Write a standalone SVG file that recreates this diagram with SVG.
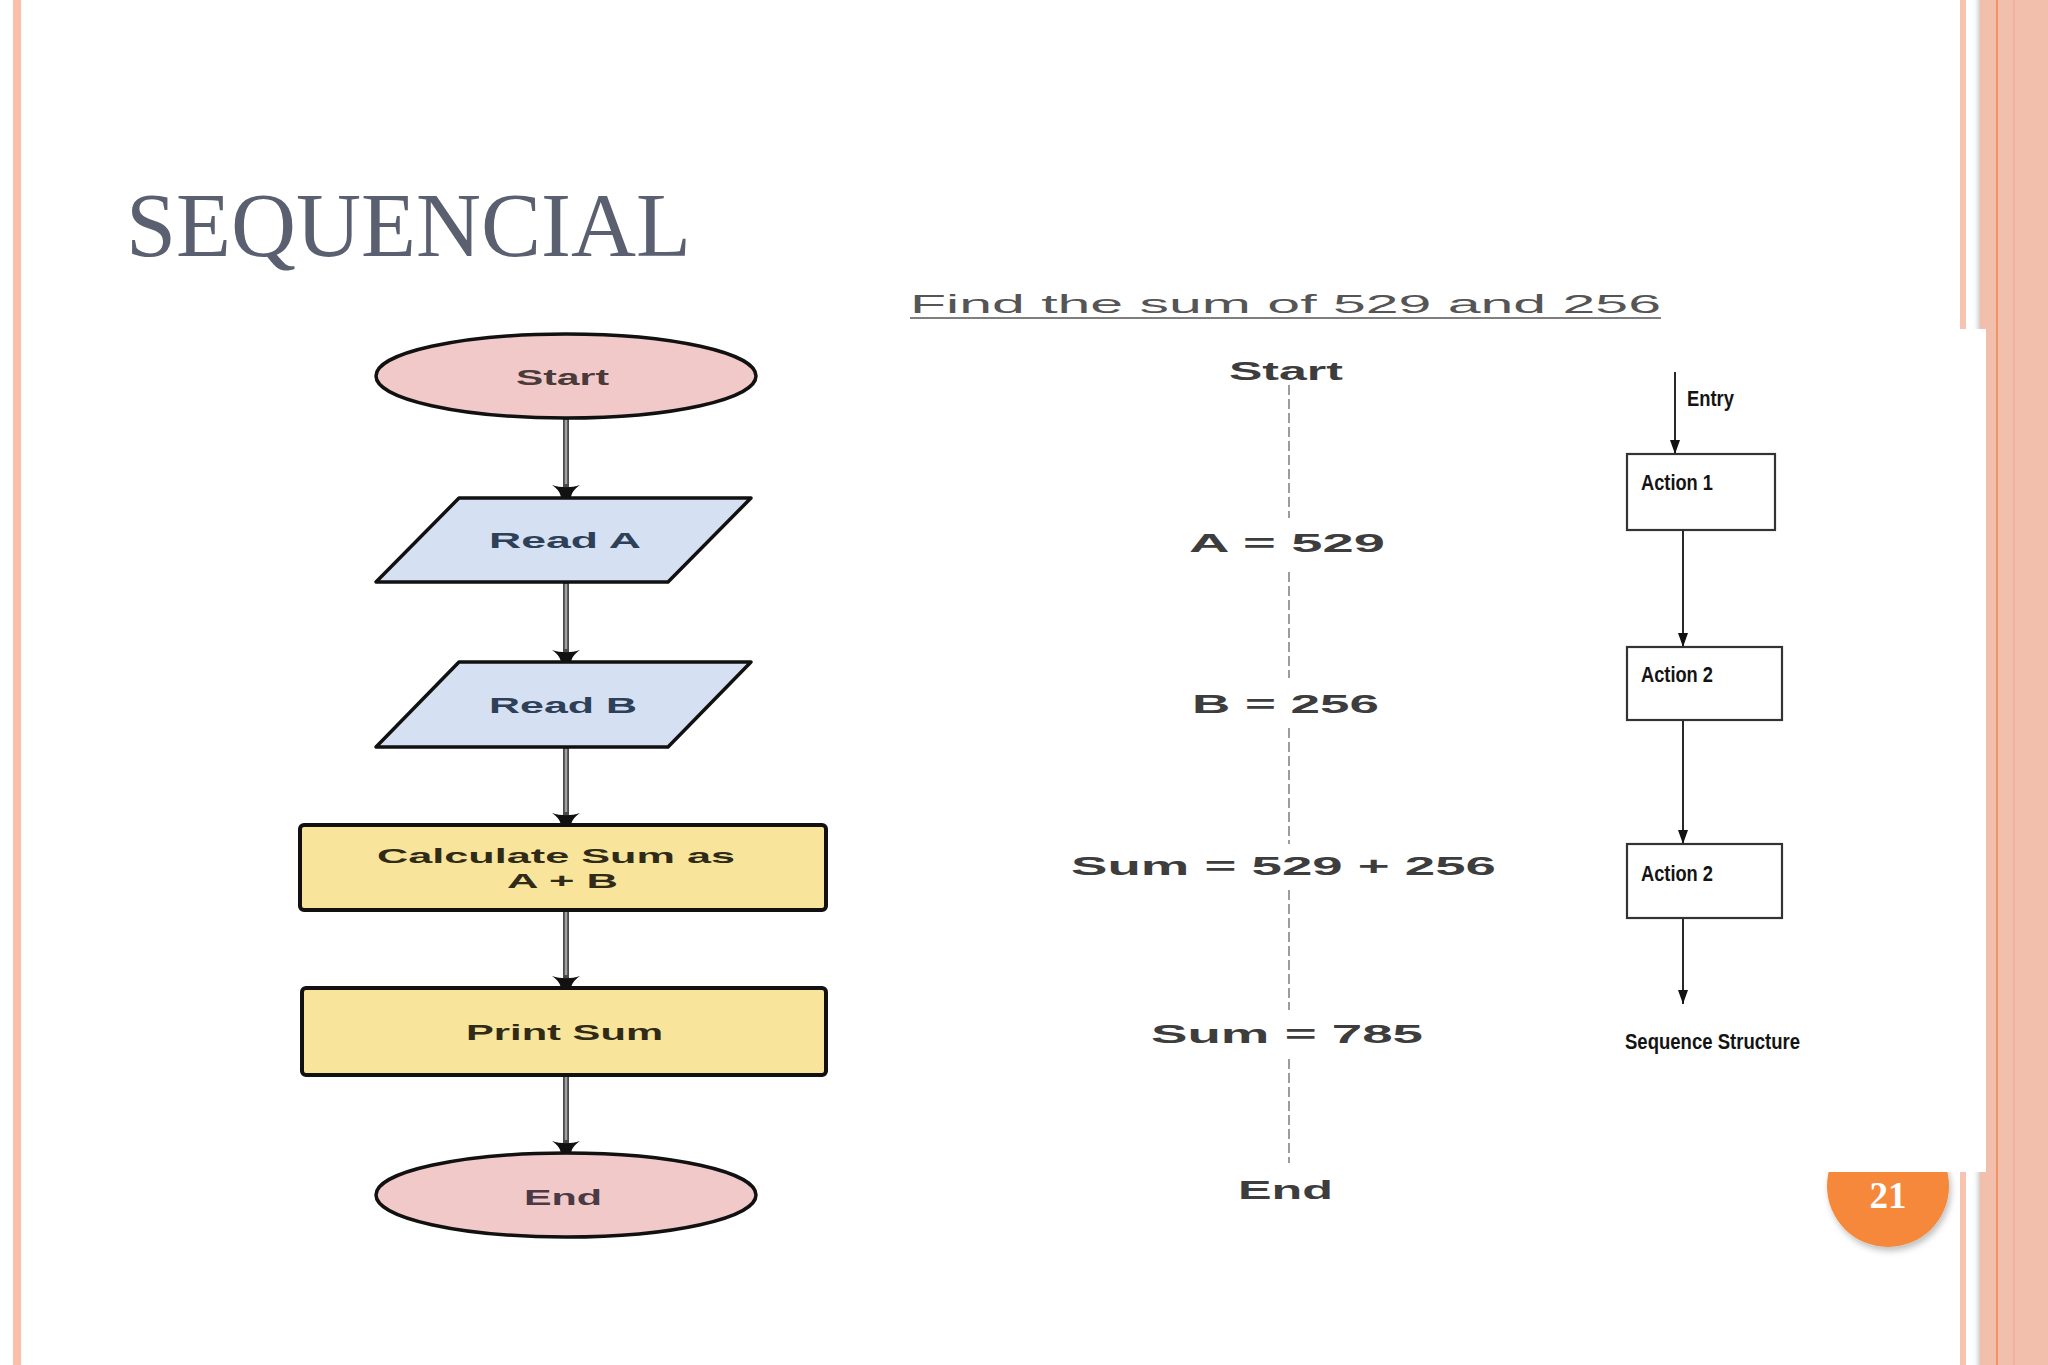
<svg xmlns="http://www.w3.org/2000/svg" width="2048" height="1365" viewBox="0 0 2048 1365">
  <defs>
    <style>
      .lbl { font-family: "Liberation Sans", Arial, sans-serif; font-weight: bold; }
      .fl { font-size: 22px; }
      .mid { font-size: 25px; fill: #3d3d3d; }
      .rt { font-size: 22px; fill: #141414; }
      .term { fill: #f2c9c9; stroke: #111; stroke-width: 3.5; }
      .io { fill: #d5e1f3; stroke: #111; stroke-width: 3.5; stroke-linejoin: round; }
      .proc { fill: #f9e49c; stroke: #111; stroke-width: 4; }
      .cdark { stroke: #4a4a4a; stroke-width: 6; fill: none; }
      .clight { stroke: #a0a0a0; stroke-width: 2.5; fill: none; }
      .dash { stroke: #9c9c9c; stroke-width: 2; stroke-dasharray: 10 4; fill: none; }
      .sbox { fill: #fff; stroke: #333; stroke-width: 2.2; }
      .sline { stroke: #111; stroke-width: 1.8; fill: none; }
    </style>
    <marker id="lh" viewBox="0 0 12 30" refX="12" refY="15" markerWidth="12" markerHeight="30" markerUnits="userSpaceOnUse" orient="auto">
      <path d="M0,1 C5,8 8,9 12,10 L12,20 C8,21 5,22 0,29 C3,20 3,10 0,1 Z" fill="#111"/>
    </marker>
    <marker id="rh" viewBox="0 0 14 10" refX="14" refY="5" markerWidth="14" markerHeight="10" markerUnits="userSpaceOnUse" orient="auto">
      <path d="M0,0 L14,5 L0,10 Z" fill="#111"/>
    </marker>
    <filter id="shadow" x="-30%" y="-30%" width="160%" height="160%">
      <feDropShadow dx="2" dy="4" stdDeviation="3" flood-color="#000" flood-opacity="0.25"/>
    </filter>
    <linearGradient id="edge" x1="0" x2="1" y1="0" y2="0">
      <stop offset="0" stop-color="#ffffff" stop-opacity="0"/>
      <stop offset="1" stop-color="#b9b9b9" stop-opacity="0.7"/>
    </linearGradient>
  </defs>

  <!-- background -->
  <rect x="0" y="0" width="2048" height="1365" fill="#ffffff"/>
  <rect x="13" y="0" width="8" height="1365" fill="#fbbfaa"/>

  <!-- right decoration -->
  <rect x="1960" y="0" width="6" height="1365" fill="#f9c3b1"/>
  <rect x="1972" y="0" width="8" height="1365" fill="url(#edge)"/>
  <rect x="1980" y="0" width="68" height="1365" fill="#f2bfad"/>
  <line x1="1997" y1="0" x2="1997" y2="1365" stroke="#ef8a52" stroke-width="1.6"/>
  <line x1="2014" y1="0" x2="2014" y2="1365" stroke="#eeb09b" stroke-width="1.6"/>

  <!-- page badge -->
  <g id="badge">
    <circle cx="1888" cy="1186" r="61" fill="#f6883a" filter="url(#shadow)"/>
    <text x="1888" y="1208" text-anchor="middle" font-family="Liberation Serif, 'Times New Roman', serif" font-weight="bold" font-size="37" fill="#ffffff">21</text>
  </g>

  <!-- white pasted picture area -->
  <rect x="1800" y="329" width="186" height="843" fill="#ffffff"/>

  <!-- title -->
  <text x="126" y="256" font-family="Liberation Serif, 'Times New Roman', serif" font-size="91" fill="#5b6070" textLength="565" lengthAdjust="spacingAndGlyphs">SEQUENCIAL</text>

  <!-- connectors -->
  <g id="connectors">
    <line class="cdark" x1="566" y1="418" x2="566" y2="497" marker-end="url(#lh)"/>
    <line class="clight" x1="566" y1="420" x2="566" y2="484"/>
    <line class="cdark" x1="566" y1="582" x2="566" y2="662" marker-end="url(#lh)"/>
    <line class="clight" x1="566" y1="584" x2="566" y2="649"/>
    <line class="cdark" x1="566" y1="747" x2="566" y2="825" marker-end="url(#lh)"/>
    <line class="clight" x1="566" y1="749" x2="566" y2="812"/>
    <line class="cdark" x1="566" y1="910" x2="566" y2="988" marker-end="url(#lh)"/>
    <line class="clight" x1="566" y1="912" x2="566" y2="975"/>
    <line class="cdark" x1="566" y1="1075" x2="566" y2="1153" marker-end="url(#lh)"/>
    <line class="clight" x1="566" y1="1077" x2="566" y2="1140"/>

    <line class="dash" x1="1289" y1="385" x2="1289" y2="518"/>
    <line class="dash" x1="1289" y1="572" x2="1289" y2="678"/>
    <line class="dash" x1="1289" y1="728" x2="1289" y2="844"/>
    <line class="dash" x1="1289" y1="890" x2="1289" y2="1010"/>
    <line class="dash" x1="1289" y1="1059" x2="1289" y2="1163"/>

    <line class="sline" x1="1675" y1="372" x2="1675" y2="454" marker-end="url(#rh)"/>
    <line class="sline" x1="1683" y1="530" x2="1683" y2="647" marker-end="url(#rh)"/>
    <line class="sline" x1="1683" y1="720" x2="1683" y2="844" marker-end="url(#rh)"/>
    <line class="sline" x1="1683" y1="918" x2="1683" y2="1004" marker-end="url(#rh)"/>
  </g>

  <!-- left flowchart nodes -->
  <g id="start">
    <ellipse class="term" cx="566" cy="376" rx="190" ry="42"/>
    <text class="lbl fl" x="516" y="385" fill="#4b3a3a" textLength="93" lengthAdjust="spacingAndGlyphs">Start</text>
  </g>
  <g id="readA">
    <path class="io" d="M459,498 L751,498 L668,582 L376,582 Z"/>
    <text class="lbl fl" x="489" y="548" fill="#2e4057" textLength="152" lengthAdjust="spacingAndGlyphs">Read A</text>
  </g>
  <g id="readB">
    <path class="io" d="M459,662 L751,662 L668,747 L376,747 Z"/>
    <text class="lbl fl" x="489" y="713" fill="#2e4057" textLength="148" lengthAdjust="spacingAndGlyphs">Read B</text>
  </g>
  <g id="calc">
    <rect class="proc" x="300" y="825" width="526" height="85" rx="4"/>
    <text class="lbl" font-size="21" x="377" y="863" fill="#2f2b16" textLength="358" lengthAdjust="spacingAndGlyphs">Calculate Sum as</text>
    <text class="lbl" font-size="21" x="507" y="888" fill="#2f2b16" textLength="111" lengthAdjust="spacingAndGlyphs">A + B</text>
  </g>
  <g id="print">
    <rect class="proc" x="302" y="988" width="524" height="87" rx="4"/>
    <text class="lbl fl" x="466" y="1040" fill="#2f2b16" textLength="197" lengthAdjust="spacingAndGlyphs">Print Sum</text>
  </g>
  <g id="end">
    <ellipse class="term" cx="566" cy="1195" rx="190" ry="42"/>
    <text class="lbl fl" x="524" y="1205" fill="#4a3a46" textLength="78" lengthAdjust="spacingAndGlyphs">End</text>
  </g>

  <!-- middle trace -->
  <g id="heading">
    <text x="910" y="313" font-family="Liberation Sans, Arial, sans-serif" font-size="25" fill="#555555" textLength="751" lengthAdjust="spacingAndGlyphs">Find the sum of 529 and 256</text>
    <line x1="910" y1="318" x2="1661" y2="318" stroke="#555555" stroke-width="1.5"/>
  </g>
  <g id="m-start"><text class="lbl mid" x="1229" y="380" textLength="114" lengthAdjust="spacingAndGlyphs">Start</text></g>
  <g id="m-a"><text class="lbl mid" x="1189" y="552" textLength="196" lengthAdjust="spacingAndGlyphs">A = 529</text></g>
  <g id="m-b"><text class="lbl mid" x="1192" y="713" textLength="187" lengthAdjust="spacingAndGlyphs">B = 256</text></g>
  <g id="m-sum"><text class="lbl mid" x="1071" y="875" textLength="425" lengthAdjust="spacingAndGlyphs">Sum = 529 + 256</text></g>
  <g id="m-res"><text class="lbl mid" x="1151" y="1043" textLength="272" lengthAdjust="spacingAndGlyphs">Sum = 785</text></g>
  <g id="m-end"><text class="lbl mid" x="1238" y="1199" textLength="95" lengthAdjust="spacingAndGlyphs">End</text></g>

  <!-- sequence structure -->
  <g id="entry"><text class="lbl rt" font-size="21" x="1687" y="406" textLength="47" lengthAdjust="spacingAndGlyphs">Entry</text></g>
  <g id="action1">
    <rect class="sbox" x="1627" y="454" width="148" height="76"/>
    <text class="lbl rt" x="1641" y="490" textLength="72" lengthAdjust="spacingAndGlyphs">Action 1</text>
  </g>
  <g id="action2a">
    <rect class="sbox" x="1627" y="647" width="155" height="73"/>
    <text class="lbl rt" x="1641" y="682" textLength="72" lengthAdjust="spacingAndGlyphs">Action 2</text>
  </g>
  <g id="action2b">
    <rect class="sbox" x="1627" y="844" width="155" height="74"/>
    <text class="lbl rt" x="1641" y="881" textLength="72" lengthAdjust="spacingAndGlyphs">Action 2</text>
  </g>
  <g id="caption"><text class="lbl rt" font-size="20" x="1625" y="1049" textLength="175" lengthAdjust="spacingAndGlyphs">Sequence Structure</text></g>
</svg>
